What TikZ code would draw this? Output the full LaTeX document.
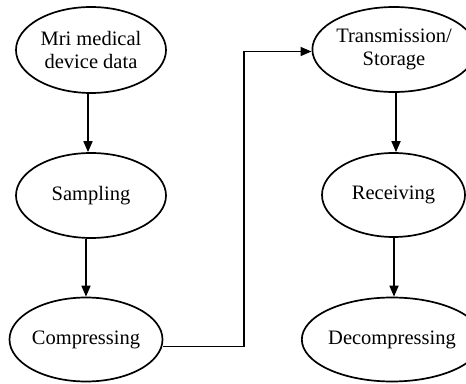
\documentclass[tikz,border=0pt]{standalone}
\usepackage{fontspec}
\setmainfont{Liberation Serif}
\usetikzlibrary{shapes.geometric,arrows.meta}
\begin{document}
\begin{tikzpicture}[x=1pt,y=1pt,
  proc/.style={ellipse,draw,line width=1.7pt,inner sep=0pt,align=center,
    font=\fontsize{20.5}{23.5}\selectfont},
  arr/.style={line width=1.7pt,-{Triangle[length=11pt,width=9pt]}}]
\useasboundingbox (0,0) rectangle (466,383);
\node[proc,minimum width=150pt,minimum height=86pt] (mri) at (91,333) {Mri medical\\device data};
\node[proc,minimum width=150pt,minimum height=85pt] (samp) at (91,187.5) {Sampling};
\node[proc,minimum width=149pt,minimum height=84pt] (comp) at (86,43.5) {Compressing};
\node[proc,minimum width=142pt,minimum height=85pt] (trans) at (394,333.5) {Transmission/\\Storage};
\node[proc,minimum width=143pt,minimum height=84pt] (recv) at (393.5,188) {Receiving};
\node[proc,minimum width=146pt,minimum height=84pt] (dec) at (392,43.5) {Decompressing};
\draw[arr] ([xshift=-3pt]mri.south) -- ([xshift=-3pt]samp.north);
\draw[arr] ([xshift=-5pt]samp.south) -- (comp.north);
\draw[arr] ([yshift=-7pt]comp.east) -- ++(80.5pt,0) |- ([yshift=-2pt]trans.west);
\draw[arr] ([xshift=2pt]trans.south) -- ([xshift=2.5pt]recv.north);
\draw[arr] ([xshift=0.5pt]recv.south) -- ([xshift=2pt]dec.north);
\end{tikzpicture}
\end{document}
